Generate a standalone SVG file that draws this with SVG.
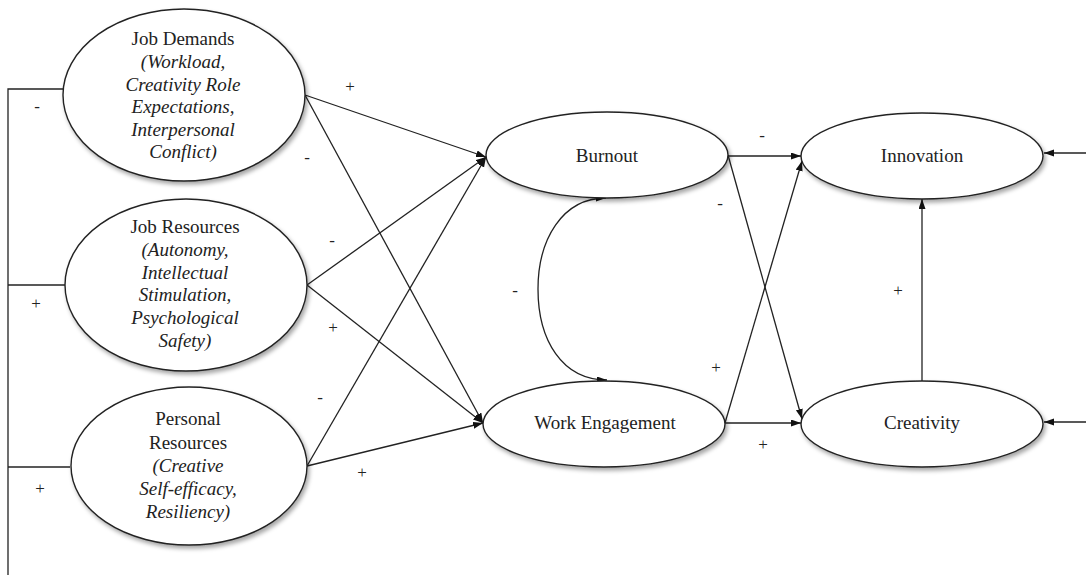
<svg xmlns="http://www.w3.org/2000/svg" width="1086" height="575" viewBox="0 0 1086 575">
<style>
.node{fill:#fff;stroke:#222;stroke-width:1.4;filter:url(#sh)}
.t{font-family:'Liberation Serif','DejaVu Serif',serif;font-size:19px;fill:#222;text-anchor:middle}
.i{font-style:italic}
.s{font-family:'Liberation Serif','DejaVu Serif',serif;font-size:17px;fill:#222;text-anchor:middle}
.c{fill:none;stroke:#222;stroke-width:1.3}
.a{marker-end:url(#ah)}
</style>
<defs>
<filter id="sh" x="-10%" y="-10%" width="125%" height="130%">
<feDropShadow dx="2" dy="3" stdDeviation="2" flood-color="#000" flood-opacity="0.35"/>
</filter>
<marker id="ah" markerUnits="userSpaceOnUse" markerWidth="11" markerHeight="8" refX="10" refY="3.5" orient="auto-start-reverse">
<path d="M0,0 L10,3.5 L0,7 z" fill="#111"/>
</marker>
</defs>
<rect width="1086" height="575" fill="#fff"/>

<g id="connectors">
<polyline class="c" points="63,89 8,89 8,575"/>
<line class="c" x1="8" y1="285" x2="65" y2="285"/>
<line class="c" x1="8" y1="467" x2="70" y2="467"/>
<line class="c a" x1="305" y1="95" x2="486" y2="157"/>
<line class="c a" x1="305" y1="95" x2="483" y2="423"/>
<line class="c a" x1="307" y1="285" x2="486" y2="157"/>
<line class="c a" x1="307" y1="285" x2="483" y2="423"/>
<line class="c a" x1="307" y1="466" x2="486" y2="157"/>
<line class="c a" x1="307" y1="466" x2="483" y2="423"/>
<path class="c" d="M606,198 C562,198 538,240 538,289 C538,340 562,380 607,380" marker-start="url(#ah)" marker-end="url(#ah)"/>
<line class="c a" x1="728" y1="156" x2="801" y2="156"/>
<line class="c a" x1="728" y1="155" x2="802" y2="419"/>
<line class="c a" x1="725" y1="423" x2="802" y2="161"/>
<line class="c a" x1="725" y1="423" x2="801" y2="423"/>
<line class="c a" x1="922" y1="381" x2="922" y2="199"/>
<line class="c a" x1="1086" y1="153" x2="1044" y2="153"/>
<line class="c a" x1="1086" y1="422" x2="1044" y2="422"/>
</g>

<g id="signs">
<text class="s" x="37" y="112">-</text>
<text class="s" x="36" y="309">+</text>
<text class="s" x="40" y="494">+</text>
<text class="s" x="350" y="92">+</text>
<text class="s" x="307" y="163">-</text>
<text class="s" x="332" y="246">-</text>
<text class="s" x="333" y="333">+</text>
<text class="s" x="320" y="403">-</text>
<text class="s" x="362" y="478">+</text>
<text class="s" x="515" y="296">-</text>
<text class="s" x="762" y="141">-</text>
<text class="s" x="720" y="209">-</text>
<text class="s" x="716" y="373">+</text>
<text class="s" x="763" y="450">+</text>
<text class="s" x="898" y="296">+</text>
</g>

<g id="job-demands">
<ellipse class="node" cx="184" cy="95" rx="121" ry="86"/>
<text class="t" x="183" y="45">Job Demands</text>
<text class="t i" x="183" y="68">(Workload,</text>
<text class="t i" x="183" y="90.5">Creativity Role</text>
<text class="t i" x="183" y="113">Expectations,</text>
<text class="t i" x="183" y="135.5">Interpersonal</text>
<text class="t i" x="183" y="158">Conflict)</text>
</g>

<g id="job-resources">
<ellipse class="node" cx="186" cy="285" rx="121" ry="86"/>
<text class="t" x="185" y="233">Job Resources</text>
<text class="t i" x="185" y="256">(Autonomy,</text>
<text class="t i" x="185" y="278.5">Intellectual</text>
<text class="t i" x="185" y="301">Stimulation,</text>
<text class="t i" x="185" y="324">Psychological</text>
<text class="t i" x="185" y="346.5">Safety)</text>
</g>

<g id="personal-resources">
<ellipse class="node" cx="189" cy="466" rx="118" ry="79"/>
<text class="t" x="188" y="425">Personal</text>
<text class="t" x="188" y="449">Resources</text>
<text class="t i" x="188" y="472">(Creative</text>
<text class="t i" x="188" y="495">Self-efficacy,</text>
<text class="t i" x="188" y="518">Resiliency)</text>
</g>

<g id="burnout">
<ellipse class="node" cx="607" cy="155" rx="121" ry="43"/>
<text class="t" x="607" y="162">Burnout</text>
</g>

<g id="work-engagement">
<ellipse class="node" cx="604" cy="424" rx="121" ry="43"/>
<text class="t" x="605" y="429">Work Engagement</text>
</g>

<g id="innovation">
<ellipse class="node" cx="922" cy="156" rx="121" ry="43"/>
<text class="t" x="922" y="162">Innovation</text>
</g>

<g id="creativity">
<ellipse class="node" cx="922" cy="424" rx="121" ry="43"/>
<text class="t" x="922" y="429">Creativity</text>
</g>
</svg>
